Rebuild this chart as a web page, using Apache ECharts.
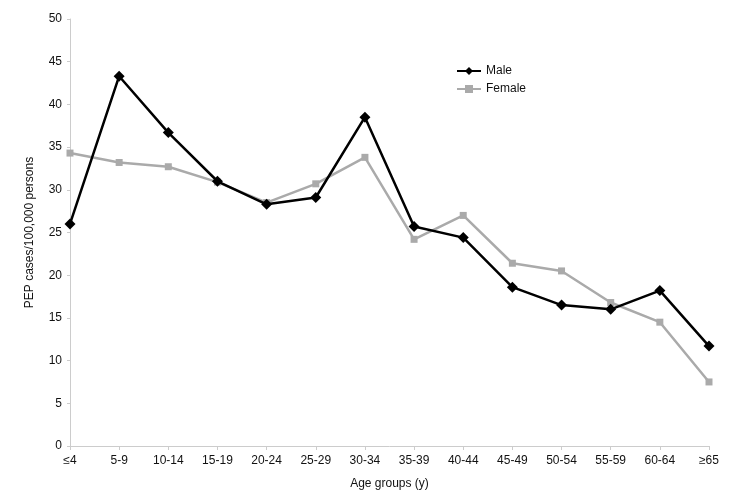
<!DOCTYPE html>
<html>
<head>
    <meta charset="utf-8" />
    <title>PEP cases by age group</title>
    <script src="https://cdn.jsdelivr.net/npm/echarts@6/dist/echarts.min.js"></script>
    <style>
        body { margin: 0; background: #fff; }
    </style>
</head>
<body>
    <div id="main" style="width: 750px;height:503px;"></div>
</body>
<script>
    // 数据
    var ageGroups = ['≤4', '5-9', '10-14', '15-19', '20-24', '25-29', '30-34', '35-39', '40-44', '45-49', '50-54', '55-59', '60-64', '≥65'];
    var male = [26.0, 43.3, 36.7, 31.0, 28.3, 29.1, 38.5, 25.7, 24.4, 18.6, 16.5, 16.0, 18.2, 11.7];
    var female = [34.3, 33.2, 32.7, 30.9, 28.5, 30.7, 33.8, 24.2, 27.0, 21.4, 20.5, 16.8, 14.5, 7.5];

    var myChart = echarts.init(document.getElementById('main'));

    var font = 'Liberation Sans, Arial, sans-serif';

    var option = {
        animation: false,
        textStyle: { fontFamily: font },
        grid: {
            left: 70,
            right: 41,
            top: 19,
            bottom: 57
        },
        legend: {
            orient: 'vertical',
            left: 451,
            top: 60,
            itemWidth: 24,
            itemHeight: 10,
            itemGap: 6,
            textStyle: { fontFamily: font, fontSize: 12, color: '#111' },
            data: ['Male', 'Female']
        },
        xAxis: {
            type: 'category',
            data: ageGroups,
            boundaryGap: false,
            name: 'Age groups (y)',
            nameLocation: 'middle',
            nameGap: 32,
            nameTextStyle: { fontFamily: font, fontSize: 12, color: '#111' },
            axisLine: { lineStyle: { color: '#cccccc', width: 1 } },
            axisTick: { alignWithLabel: true, length: 4, lineStyle: { color: '#cccccc' } },
            axisLabel: { fontFamily: font, fontSize: 12, color: '#111', margin: 9 },
            splitLine: { show: false }
        },
        yAxis: {
            type: 'value',
            min: 0,
            max: 50,
            interval: 5,
            name: 'PEP cases/100,000 persons',
            nameLocation: 'middle',
            nameGap: 34,
            nameTextStyle: { fontFamily: font, fontSize: 12, color: '#111' },
            axisLine: { show: true, lineStyle: { color: '#cccccc', width: 1 } },
            axisTick: { show: true, length: 3, lineStyle: { color: '#cccccc' } },
            axisLabel: { fontFamily: font, fontSize: 12, color: '#111', margin: 8 },
            splitLine: { show: false }
        },
        series: [
            {
                name: 'Male',
                type: 'line',
                data: male,
                symbol: 'diamond',
                symbolSize: 11,
                lineStyle: { color: '#000', width: 2.5 },
                itemStyle: { color: '#000' },
                z: 3
            },
            {
                name: 'Female',
                type: 'line',
                data: female,
                symbol: 'rect',
                symbolSize: 7,
                lineStyle: { color: '#aaaaaa', width: 2.5 },
                itemStyle: { color: '#aaaaaa' },
                z: 2
            }
        ]
    };

    myChart.setOption(option);
</script>
</html>
